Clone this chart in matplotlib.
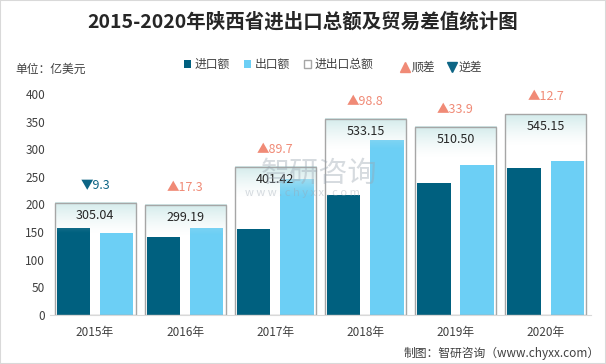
import numpy as np
import matplotlib.pyplot as plt
from matplotlib.patches import Patch, Rectangle
from matplotlib.lines import Line2D

plt.rcParams['font.family'] = ['Noto Sans CJK SC', 'DejaVu Sans']

# Data
years = ['2015年', '2016年', '2017年', '2018年', '2019年', '2020年']
imports = [157.2, 140.9, 155.9, 217.2, 238.3, 266.2]
exports = [147.9, 158.2, 245.6, 316.0, 272.2, 278.9]
totals = [305.04, 299.19, 401.42, 533.15, 510.50, 545.15]
diffs = [-9.3, 17.3, 89.7, 98.8, 33.9, 12.7]

c_imp = '#00607f'
c_exp = '#6ccff5'
c_up = '#f08a76'
c_down = '#0d6585'

fig = plt.figure(figsize=(6.06, 3.64), dpi=100)
ax = fig.add_axes([0.0825, 0.1346, 0.8922, 0.6072])
ax2 = ax.twinx()

x = np.arange(len(years))

# Import / export bars
ax.bar(x - 0.24, imports, 0.37, color=c_imp, zorder=2)
ax.bar(x + 0.24, exports, 0.37, color=c_exp, zorder=2)

ax.set_ylim(0, 400)
ax.set_xlim(-0.5, 5.5)
ax.set_yticks(np.arange(0, 401, 50))
ax.set_xticks(x)
ax.set_xticklabels(years)
ax.tick_params(axis='both', length=0, labelsize=8.5, colors='#404040')
ax.tick_params(axis='x', pad=8)
for s in ['top', 'right', 'left']:
    ax.spines[s].set_visible(False)
ax.spines['bottom'].set_color('#d9d9d9')

# Total boxes on hidden secondary scale
ax2.set_ylim(0, 600)
ax2.axis('off')
grad = np.zeros((60, 2, 4))
grad[..., 0] = 0.83
grad[..., 1] = 0.925
grad[..., 2] = 0.925
grad[..., 3] = (np.linspace(1, 0, 60) ** 1.4)[:, None]
for xi, t in zip(x, totals):
    ax2.imshow(grad, extent=[xi - 0.45, xi + 0.45, t - 85, t],
               aspect='auto', zorder=1)
ax2.bar(x, totals, 0.9, fill=False, edgecolor='#a6a6a6', linewidth=1, zorder=3)
ax2.set_xlim(-0.5, 5.5)
ax2.set_ylim(0, 600)

# Total labels and trade balance labels
for xi, t, d in zip(x, totals, diffs):
    ax2.annotate(f'{t:.2f}', xy=(xi, t), xytext=(0, -9), textcoords='offset points',
                 ha='center', va='center', fontsize=9, color='#262626', zorder=5)
    if d >= 0:
        txt, col = f'▲{d:.1f}', c_up
    else:
        txt, col = f'▼{abs(d):.1f}', c_down
    ax2.annotate(txt, xy=(xi, t), xytext=(0, 12.5), textcoords='offset points',
                 ha='center', va='center', fontsize=9, color=col, zorder=5)

# Title and notes
fig.text(0.5, 0.94, '2015-2020年陕西省进出口总额及贸易差值统计图',
         ha='center', va='center', fontsize=14, fontweight='bold', color='#262626')
fig.text(0.025, 0.81, '单位：亿美元', ha='left', va='center', fontsize=8.5, color='#404040')
fig.text(0.99, 0.03, '制图：智研咨询（www.chyxx.com）', ha='right', va='center',
         fontsize=8.5, color='#404040')

# Watermark
fig.text(0.527, 0.522, '智研咨询', ha='center', va='center', fontsize=21,
         color='#9aa5b1', alpha=0.4)
fig.text(0.499, 0.47, 'w w w . c h y x x . c o m', ha='center', va='center',
         fontsize=8, color='#9aa5b1', alpha=0.4)

# Legends
h1 = [Patch(facecolor=c_imp, label='进口额'),
      Patch(facecolor=c_exp, label='出口额'),
      Patch(facecolor='white', edgecolor='#a6a6a6', label='进出口总额')]
leg1 = fig.legend(handles=h1, loc='center', bbox_to_anchor=(0.46, 0.822), ncol=3,
                  frameon=False, fontsize=8.5, handlelength=0.6, handleheight=0.6,
                  handletextpad=0.3, columnspacing=1.2)
for t in leg1.get_texts():
    t.set_color('#404040')
h2 = [Line2D([], [], marker='^', color=c_up, linestyle='none', markersize=7, label='顺差'),
      Line2D([], [], marker='v', color=c_down, linestyle='none', markersize=7, label='逆差')]
leg2 = fig.legend(handles=h2, loc='center', bbox_to_anchor=(0.728, 0.815), ncol=2,
                  frameon=False, fontsize=8.5, handlelength=0.8,
                  handletextpad=0.2, columnspacing=1.0)
for t in leg2.get_texts():
    t.set_color('#404040')

# Border
fig.patches.append(Rectangle((0, 0), 1, 1, transform=fig.transFigure, fill=False,
                             edgecolor='#d9d9d9', linewidth=1.5))

fig.savefig('out.png', dpi=100)
